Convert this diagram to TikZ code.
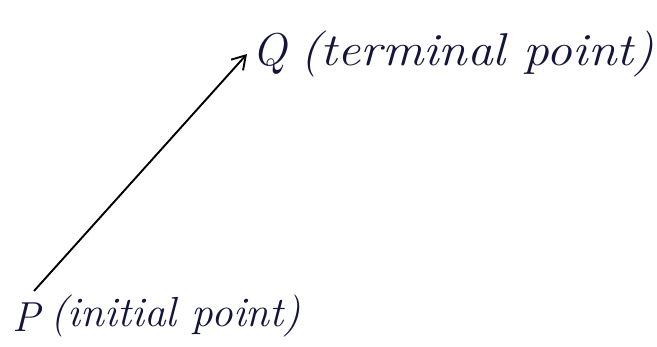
\documentclass[tikz,border=0pt]{standalone}
\usetikzlibrary{arrows.meta}
\definecolor{ink}{HTML}{14143C}
\tikzset{
  hand/.style={text=ink, inner sep=0pt, anchor=base west},
  big/.style={hand, font=\fontsize{46}{52}\selectfont\itshape},
  mid/.style={hand, font=\fontsize{42}{48}\selectfont\itshape},
  vec/.style={line width=1.9pt, -{Straight Barb[length=13pt,width=16pt]}, draw=black}
}
\begin{document}
\begin{tikzpicture}[x=1pt,y=-1pt]
\useasboundingbox (0,0) rectangle (657,347);
\node[mid] (P) at (12,332) {P};
\node[mid, xscale=1.03] (Ptext) at (50,327) {(initial point)};
\node[big] (Q) at (252,66) {Q};
\node[big, xscale=1.12] (Qtext) at (300,66) {(terminal point)};
\coordinate (start) at (34,291);
\coordinate (end) at (247,54);
\draw[vec] (start) -- (end);
\end{tikzpicture}
\end{document}
